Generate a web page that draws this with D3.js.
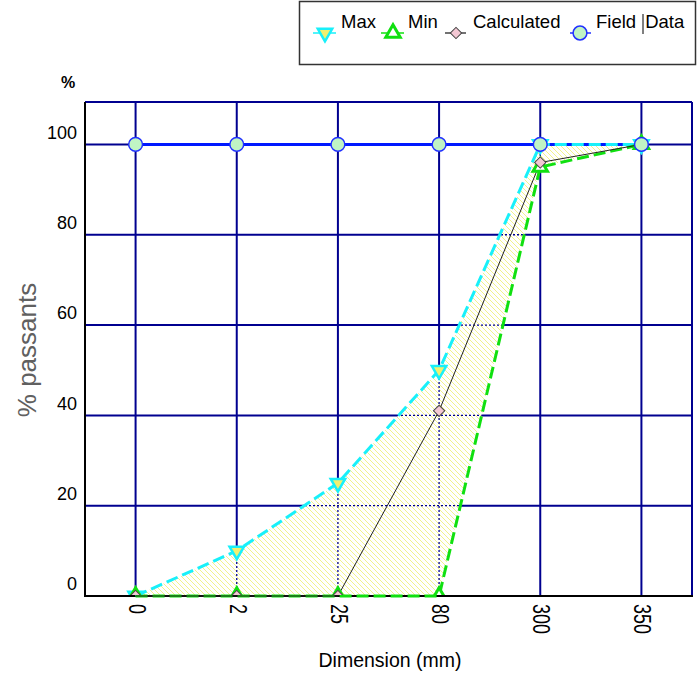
<!DOCTYPE html>
<html><head><meta charset="utf-8">
<script src="https://cdn.jsdelivr.net/npm/d3@7"></script>
<style>body{margin:0;background:#fff}svg{display:block;font-family:"Liberation Sans",Arial,sans-serif}</style>
</head><body>
<script>
const categories = ["0","2","25","80","300","350"];
const maxVals   = [0, 10, 25, 50, 100, 100];
const minVals   = [0, 0, 0, 0, 95, 100];
const calcVals  = [0, 0, 0, 41, 96, 100];
const fieldVals = [100, 100, 100, 100, 100, 100];
const yTicks = [0, 20, 40, 60, 80, 100];
const legendItems = ["Max", "Min", "Calculated", "Field Data"];

const W = 699, H = 675;
const svg = d3.select("body").append("svg").attr("width", W).attr("height", H);
const L = 85, R = 692, T = 102, B = 596;
const x = d3.scalePoint().domain(categories).range([L, R]).padding(0.5);
const y = d3.scaleLinear().domain([0, 109.4]).range([B, T]);
const navy = "#000090";

const defs = svg.append("defs");
const pat = defs.append("pattern").attr("id","hatch").attr("patternUnits","userSpaceOnUse")
  .attr("width",5).attr("height",5);
pat.append("rect").attr("width",5).attr("height",5).attr("fill","#fff");
pat.append("path").attr("d","M-1,-1 L6,6 M-1,4 L1,6 M4,-1 L6,1").attr("stroke","#f2f28a").attr("stroke-width",1);

const bandData = categories.map((c,i)=>({c, hi:maxVals[i], lo:minVals[i]}));
const area = d3.area().x(d=>x(d.c)).y0(d=>y(d.lo)).y1(d=>y(d.hi));
defs.append("clipPath").attr("id","bandclip").append("path").attr("d", area(bandData));
defs.append("clipPath").attr("id","plotclip").append("rect")
  .attr("x", L - 20).attr("y", 0).attr("width", R - L + 40).attr("height", B - 1);

const grid = svg.append("g");
function drawGrid(g, dash, w){
  g.selectAll("line.h").data(yTicks.filter(t=>t>0)).join("line").attr("class","h")
    .attr("x1",L).attr("x2",R).attr("y1",d=>y(d)).attr("y2",d=>y(d))
    .attr("stroke",navy).attr("stroke-width",w).attr("stroke-dasharray",dash);
  g.selectAll("line.v").data(categories).join("line").attr("class","v")
    .attr("x1",d=>x(d)).attr("x2",d=>x(d)).attr("y1",T).attr("y2",B)
    .attr("stroke",navy).attr("stroke-width",w).attr("stroke-dasharray",dash);
}
drawGrid(grid, null, 2);
grid.append("line").attr("x1",L).attr("x2",R).attr("y1",T).attr("y2",T).attr("stroke",navy).attr("stroke-width",2);
grid.append("line").attr("x1",R).attr("x2",R).attr("y1",T).attr("y2",B).attr("stroke",navy).attr("stroke-width",2);

svg.append("path").attr("d", area(bandData)).attr("fill","url(#hatch)");
const g2 = svg.append("g").attr("clip-path","url(#bandclip)");
drawGrid(g2, "2,2", 1.3);

svg.append("line").attr("x1",L).attr("x2",L).attr("y1",T).attr("y2",B+1).attr("stroke","#000").attr("stroke-width",2);
svg.append("line").attr("x1",L).attr("x2",R+1).attr("y1",B).attr("y2",B).attr("stroke","#000").attr("stroke-width",2);

const line = d3.line().x(d=>x(d.c)).y(d=>y(d.v));
const mk = vals => categories.map((c,i)=>({c, v:vals[i]}));
svg.append("path").attr("d", line(mk(fieldVals))).attr("fill","none").attr("stroke","#0018ff").attr("stroke-width",3);
svg.append("path").attr("d", line(mk(maxVals))).attr("fill","none").attr("stroke","#18f0fa").attr("stroke-width",3).attr("stroke-dasharray","12,5");
svg.append("path").attr("d", line(mk(minVals))).attr("fill","none").attr("stroke","#10e010").attr("stroke-width",3).attr("stroke-dasharray","12,5");
svg.append("path").attr("d", line(mk(calcVals))).attr("fill","none").attr("stroke","#222").attr("stroke-width",1);

const triSym = d3.symbol().type(d3.symbolTriangle).size(90);
const diaSym = d3.symbol().type(d3.symbolSquare).size(64);
const cirSym = d3.symbol().type(d3.symbolCircle).size(150);
const markerLayer = svg.append("g").attr("clip-path","url(#plotclip)");
function addMarkers(vals, sym, rot, fill, stroke, sw){
  markerLayer.append("g").selectAll("path").data(mk(vals)).join("path")
    .attr("d", sym).attr("transform", d=>`translate(${x(d.c)},${y(d.v)}) rotate(${rot})`)
    .attr("fill", fill).attr("stroke", stroke).attr("stroke-width", sw);
}
addMarkers(maxVals, triSym, 180, "#f0f070", "#18f0fa", 2.5);
addMarkers(minVals, triSym, 0, "#fff", "#10e010", 3);
addMarkers(calcVals, diaSym, 45, "#f4c8d4", "#444", 1);
addMarkers(fieldVals, cirSym, 0, "#c0f4c4", "#2030ff", 1.5);

svg.append("g").selectAll("text").data(yTicks).join("text")
  .attr("x", 77).attr("y", d=>y(d)-12).attr("dy","0.35em").attr("text-anchor","end")
  .attr("font-size",18).attr("fill","#000").text(d=>d);
svg.append("text").attr("x",68).attr("y",82).attr("dy","0.35em").attr("text-anchor","middle")
  .attr("font-size",16).attr("font-weight","bold").text("%");
svg.append("text").attr("transform","translate(27,350) rotate(-90)").attr("dy","0.35em")
  .attr("text-anchor","middle").attr("font-size",26).attr("fill","#606060").text("% passants");

svg.append("g").selectAll("text").data(categories).join("text")
  .attr("transform", d=>`translate(${x(d)+1},604) rotate(90) scale(0.78,1)`)
  .attr("dy","0.35em").attr("text-anchor","start").attr("font-size",23).text(d=>d);
svg.append("text").attr("x",390).attr("y",660).attr("dy","0.35em").attr("text-anchor","middle")
  .attr("font-size",19.5).text("Dimension (mm)");

const lg = svg.append("g");
lg.append("rect").attr("x",299.5).attr("y",1.5).attr("width",396).attr("height",63)
  .attr("fill","#fff").attr("stroke","#333").attr("stroke-width",1.5);
const legSpec = [
  {mx:325, x1:313, x2:336, tx:341, col:"#18f0fa", sym:triSym, rot:180, fill:"#f0f070", stroke:"#18f0fa", sw:2.5},
  {mx:393, x1:381, x2:404, tx:408, col:"#10e010", sym:triSym, rot:0, fill:"#fff", stroke:"#10e010", sw:3},
  {mx:456, x1:445, x2:466, tx:473, col:"#444", sym:diaSym, rot:45, fill:"#f4c8d4", stroke:"#444", sw:1},
  {mx:580, x1:570, x2:591, tx:596, col:"#2030ff", sym:cirSym, rot:0, fill:"#c0f4c4", stroke:"#2030ff", sw:1.5}
];
legendItems.forEach((name,i)=>{
  const s = legSpec[i];
  lg.append("line").attr("x1",s.x1).attr("x2",s.x2).attr("y1",33).attr("y2",33).attr("stroke",s.col).attr("stroke-width",1.5);
  lg.append("path").attr("d",s.sym).attr("transform",`translate(${s.mx},33) rotate(${s.rot})`)
    .attr("fill",s.fill).attr("stroke",s.stroke).attr("stroke-width",s.sw);
  const t = lg.append("text").attr("x",s.tx).attr("y",28).attr("font-size",18.5).attr("fill","#000");
  const words = name.split(" ");
  if (words.length === 2) {
    t.append("tspan").text(words[0]);
    t.append("tspan").attr("x", 645).text(" " + words[1]).attr("dx", -5);
  } else t.text(name);
});
lg.append("line").attr("x1",643).attr("x2",643).attr("y1",14).attr("y2",34).attr("stroke","#000").attr("stroke-width",1);
</script>
</body></html>
